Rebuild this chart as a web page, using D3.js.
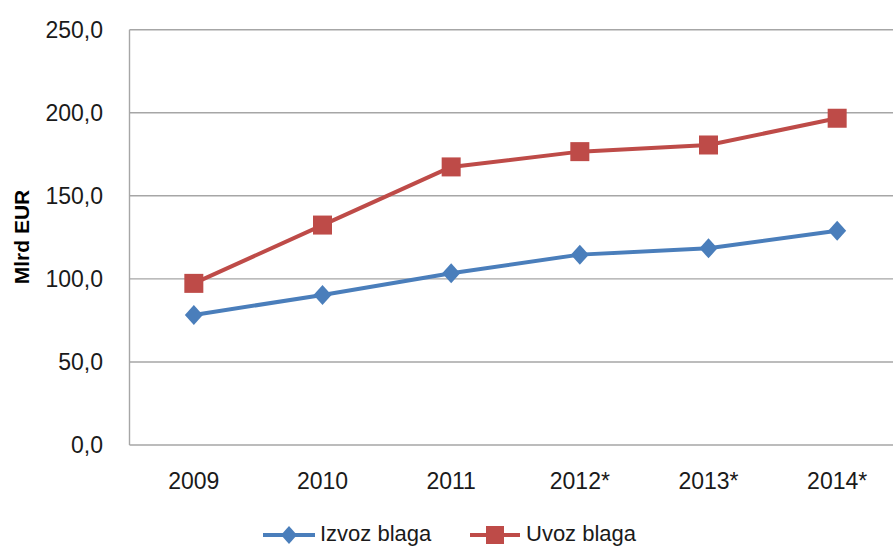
<!DOCTYPE html>
<html><head><meta charset="utf-8">
<script src="https://cdn.jsdelivr.net/npm/d3@7/dist/d3.min.js"></script>
<style>html,body{margin:0;padding:0;background:#fff;overflow:hidden}</style>
</head><body>
<script>
const categories = ["2009","2010","2011","2012*","2013*","2014*"];
const izvoz = [78.3, 90.3, 103.4, 114.6, 118.4, 129.0];
const uvoz = [97.3, 132.4, 167.4, 176.6, 180.6, 196.7];
const yTicks = [0, 50, 100, 150, 200, 250];
const seriesNames = ["Izvoz blaga", "Uvoz blaga"];
const colors = ["#4A7EBB", "#BE4B48"];

const W = 893, H = 547;
const svg = d3.select("body").append("svg").attr("width", W).attr("height", H);
const font = "'Liberation Sans', Arial, sans-serif";

const x = d3.scaleBand().domain(categories).range([129.5, 901.5]);
const y = d3.scaleLinear().domain([0, 250]).range([445, 29.7]);

// gridlines
svg.append("g").selectAll("line").data(yTicks.filter(d => d > 0)).join("line")
  .attr("x1", 129.5).attr("x2", W).attr("y1", d => y(d)).attr("y2", d => y(d))
  .attr("stroke", "#A6A6A6").attr("stroke-width", 1.4);
// axes lines
svg.append("line").attr("x1", 129.5).attr("x2", 129.5).attr("y1", y(250)).attr("y2", y(0))
  .attr("stroke", "#A6A6A6").attr("stroke-width", 1.4);
svg.append("line").attr("x1", 129.5).attr("x2", W).attr("y1", y(0)).attr("y2", y(0))
  .attr("stroke", "#A6A6A6").attr("stroke-width", 1.4);

// y tick labels
svg.append("g").selectAll("text").data(yTicks).join("text")
  .attr("x", 103).attr("y", d => y(d)).attr("dy", "0.35em")
  .attr("text-anchor", "end").attr("font-family", font).attr("font-size", 23)
  .attr("fill", "#1a1a1a").text(d => d.toFixed(1).replace(".", ","));

// x labels
svg.append("g").selectAll("text").data(categories).join("text")
  .attr("x", d => x(d) + x.bandwidth() / 2).attr("y", 489)
  .attr("text-anchor", "middle").attr("font-family", font).attr("font-size", 23)
  .attr("fill", "#1a1a1a").text(d => d);

// y title
svg.append("text").attr("transform", "translate(29,237) rotate(-90)")
  .attr("text-anchor", "middle").attr("font-family", font).attr("font-size", 21)
  .attr("font-weight", "bold").attr("fill", "#000").text("Mlrd EUR");

const cx = d => x(d) + x.bandwidth() / 2;
const line = d3.line().x((d, i) => cx(categories[i])).y(d => y(d));

function drawSeries(vals, color, type) {
  svg.append("path").datum(vals).attr("d", line).attr("fill", "none")
    .attr("stroke", color).attr("stroke-width", 4).attr("stroke-linejoin", "round");
  const g = svg.append("g");
  vals.forEach((v, i) => {
    const px = cx(categories[i]), py = y(v);
    if (type === "diamond") {
      g.append("path").attr("d", "M0,-10L9,0L0,10L-9,0Z")
        .attr("transform", `translate(${px},${py})`).attr("fill", color);
    } else {
      g.append("rect").attr("x", px - 9.5).attr("y", py - 9.5).attr("width", 19).attr("height", 19)
        .attr("fill", color);
    }
  });
}
drawSeries(izvoz, colors[0], "diamond");
drawSeries(uvoz, colors[1], "square");

// legend
const leg = [
  {name: seriesNames[0], color: colors[0], type: "diamond", x1: 263, x2: 315, tx: 320},
  {name: seriesNames[1], color: colors[1], type: "square", x1: 470, x2: 520, tx: 526}
];
leg.forEach(l => {
  const ly = 535;
  svg.append("line").attr("x1", l.x1).attr("x2", l.x2).attr("y1", ly).attr("y2", ly)
    .attr("stroke", l.color).attr("stroke-width", 4);
  const mx = (l.x1 + l.x2) / 2;
  if (l.type === "diamond") {
    svg.append("path").attr("d", "M0,-9L8,0L0,9L-8,0Z").attr("transform", `translate(${mx},${ly})`).attr("fill", l.color);
  } else {
    svg.append("rect").attr("x", mx - 9).attr("y", ly - 9).attr("width", 18).attr("height", 18).attr("fill", l.color);
  }
  svg.append("text").attr("x", l.tx).attr("y", 541).attr("font-family", font).attr("font-size", 22)
    .attr("fill", "#1a1a1a").text(l.name);
});
</script>
</body></html>
